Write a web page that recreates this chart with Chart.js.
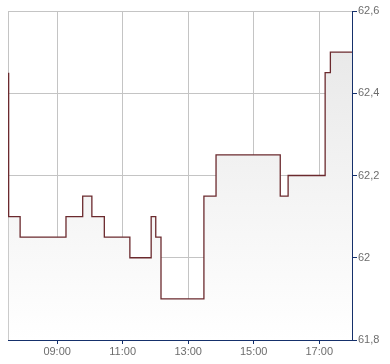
<!DOCTYPE html>
<html>
<head>
<meta charset="utf-8">
<script src="https://cdn.jsdelivr.net/npm/chart.js@4/dist/chart.umd.min.js"></script>
<style>
  html, body { margin: 0; padding: 0; background: #fff; }
  #wrap { width: 390px; height: 364px; }
</style>
</head>
<body>
<div id="wrap"><canvas id="chart" width="390" height="364"></canvas></div>
<script>
// time of each price change, in hours of the day
const times = [7.52, 7.52, 7.87, 9.27, 9.78, 10.06, 10.44, 11.22, 11.87, 12.01, 12.17, 13.48, 13.85, 15.81, 16.05, 17.18, 17.34, 18.0];
const prices = [62.45, 62.1, 62.05, 62.1, 62.15, 62.1, 62.05, 62.0, 62.1, 62.05, 61.9, 62.15, 62.25, 62.15, 62.2, 62.45, 62.5, 62.5];
const xTicks = [9, 11, 13, 15, 17];
const yTicks = [61.8, 62.0, 62.2, 62.4, 62.6];

const xMin = 7.5, xMax = 18.0;
const axisColor = '#15306b';
const gridColor = '#c4c4c4';
const labelColor = '#6d6d6d';

function hourLabel(v) {
    const h = Math.floor(v);
    const m = Math.round((v - h) * 60);
    return String(h).padStart(2, '0') + ':' + String(m).padStart(2, '0');
}

function priceLabel(v) {
    return String(Math.round(v * 10) / 10).replace('.', ',');
}

// each value holds until the next change, so the line steps horizontally first
const points = times.map((t, i) => ({ x: t, y: prices[i] }));

const ctx = document.getElementById('chart').getContext('2d');
new Chart(ctx, {
    type: 'line',
    data: {
        datasets: [{
            data: points,
            stepped: 'before',
            borderColor: '#6b2a2e',
            borderWidth: 1.3,
            pointRadius: 0,
            fill: 'start',
            backgroundColor: function(context) {
                const area = context.chart.chartArea;
                if (!area) return '#f0f0f0';
                const g = context.chart.ctx.createLinearGradient(0, area.top, 0, area.bottom);
                g.addColorStop(0, '#e6e6e6');
                g.addColorStop(1, '#ffffff');
                return g;
            }
        }]
    },
    options: {
        responsive: false,
        animation: false,
        events: [],
        layout: { padding: { left: 8, top: 11, right: 0, bottom: 0 } },
        plugins: { legend: { display: false }, tooltip: { enabled: false } },
        scales: {
            x: {
                type: 'linear',
                min: xMin,
                max: xMax,
                afterBuildTicks: function(scale) {
                    scale.ticks = [xMin].concat(xTicks).map(v => ({ value: v }));
                },
                afterFit: function(scale) { scale.height = 24; },
                grid: {
                    color: gridColor,
                    lineWidth: 1,
                    tickLength: 4,
                    tickColor: function(c) { return c.tick && c.tick.value === xMin ? 'rgba(0,0,0,0)' : axisColor; }
                },
                border: { display: true, color: axisColor, width: 1 },
                ticks: {
                    color: labelColor,
                    padding: 1,
                    maxRotation: 0,
                    font: { family: 'Liberation Sans, Arial, sans-serif', size: 11 },
                    callback: function(v) { return v === xMin ? '' : hourLabel(v); }
                }
            },
            y: {
                position: 'right',
                min: 61.8,
                max: 62.6,
                afterBuildTicks: function(scale) {
                    scale.ticks = yTicks.map(v => ({ value: v }));
                },
                afterFit: function(scale) { scale.width = 38; },
                grid: {
                    color: gridColor,
                    lineWidth: 1,
                    tickLength: 5,
                    tickColor: axisColor
                },
                border: { display: true, color: axisColor, width: 1 },
                ticks: {
                    color: labelColor,
                    padding: 1,
                    font: { family: 'Liberation Sans, Arial, sans-serif', size: 11 },
                    callback: function(v) { return priceLabel(v); }
                }
            }
        }
    }
});
</script>
</body>
</html>
